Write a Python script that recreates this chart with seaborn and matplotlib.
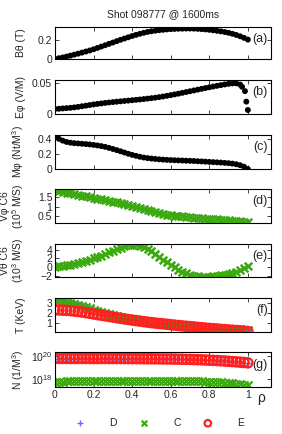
import numpy as np
import matplotlib
matplotlib.use("Agg")
import matplotlib.pyplot as plt
import seaborn as sns

# radial grid (normalised minor radius)
rho = np.linspace(0, 1, 51)

b_theta = [0.000, 0.008, 0.016, 0.025, 0.035, 0.045, 0.055, 0.066, 0.077, 0.088,
           0.100, 0.114, 0.128, 0.142, 0.156, 0.170, 0.184, 0.198, 0.211, 0.224,
           0.237, 0.249, 0.260, 0.270, 0.279, 0.286, 0.292, 0.297, 0.301, 0.305,
           0.308, 0.310, 0.312, 0.313, 0.314, 0.314, 0.313, 0.311, 0.308, 0.305,
           0.301, 0.296, 0.291, 0.285, 0.278, 0.270, 0.260, 0.248, 0.234, 0.218,
           0.200]

rho_e = list(np.round(np.arange(0, 0.97, 0.02), 2)) + [0.97, 0.985, 0.992, 1.0]
e_phi = [0.0080, 0.0085, 0.0090, 0.0095, 0.0100, 0.0107, 0.0115, 0.0125, 0.0135, 0.0145,
         0.0155, 0.0163, 0.0171, 0.0179, 0.0186, 0.0193, 0.0199, 0.0205, 0.0211, 0.0217,
         0.0223, 0.0229, 0.0235, 0.0242, 0.0249, 0.0256, 0.0264, 0.0273, 0.0283, 0.0294,
         0.0305, 0.0317, 0.0329, 0.0342, 0.0355, 0.0368, 0.0381, 0.0394, 0.0407, 0.0420,
         0.0432, 0.0444, 0.0456, 0.0467, 0.0478, 0.0488, 0.0495, 0.0496, 0.0475,
         0.0440, 0.0370, 0.0200, 0.0065]

m_phi = [0.425, 0.400, 0.375, 0.358, 0.348, 0.342, 0.338, 0.334, 0.330, 0.325,
         0.319, 0.312, 0.303, 0.293, 0.280, 0.265, 0.250, 0.234, 0.218, 0.202,
         0.187, 0.174, 0.162, 0.152, 0.144, 0.138, 0.133, 0.128, 0.124, 0.121,
         0.118, 0.116, 0.114, 0.112, 0.110, 0.108, 0.106, 0.103, 0.100, 0.097,
         0.094, 0.091, 0.088, 0.085, 0.081, 0.077, 0.071, 0.063, 0.050, 0.030,
         0.000]

v_phi = [1.88, 1.84, 1.80, 1.76, 1.72, 1.68, 1.64, 1.60, 1.56, 1.52,
         1.48, 1.44, 1.40, 1.36, 1.32, 1.28, 1.24, 1.20, 1.15, 1.10,
         1.05, 1.00, 0.94, 0.88, 0.82, 0.76, 0.71, 0.66, 0.62, 0.58,
         0.55, 0.52, 0.50, 0.48, 0.46, 0.44, 0.42, 0.41, 0.39, 0.37,
         0.36, 0.34, 0.33, 0.31, 0.30, 0.28, 0.26, 0.24, 0.22, 0.19,
         0.16]

v_theta = [0.00, 0.12, 0.25, 0.40, 0.56, 0.75, 0.95, 1.17, 1.42, 1.70,
           2.00, 2.32, 2.65, 3.00, 3.35, 3.70, 4.05, 4.40, 4.75, 5.00,
           5.15, 5.15, 4.95, 4.60, 4.15, 3.60, 3.00, 2.35, 1.70, 1.05,
           0.45, -0.10, -0.60, -1.05, -1.45, -1.75, -2.00, -2.15, -2.25, -2.28,
           -2.25, -2.18, -2.07, -1.93, -1.77, -1.58, -1.35, -1.10, -0.60, -0.25,
           0.15]

t_D = [3.40, 3.30, 3.20, 3.09, 2.98, 2.87, 2.76, 2.65, 2.54, 2.43,
       2.32, 2.21, 2.10, 2.00, 1.90, 1.80, 1.71, 1.62, 1.54, 1.46,
       1.39, 1.32, 1.26, 1.20, 1.14, 1.09, 1.04, 0.99, 0.95, 0.91,
       0.87, 0.83, 0.79, 0.76, 0.73, 0.70, 0.67, 0.64, 0.61, 0.59,
       0.56, 0.54, 0.52, 0.50, 0.48, 0.46, 0.44, 0.42, 0.40, 0.38,
       0.36]
t_C = [3.30, 3.22, 3.14, 3.05, 2.96, 2.86, 2.76, 2.66, 2.55, 2.44,
       2.33, 2.22, 2.11, 2.00, 1.90, 1.80, 1.71, 1.62, 1.54, 1.46,
       1.39, 1.32, 1.26, 1.20, 1.14, 1.09, 1.04, 0.99, 0.95, 0.91,
       0.87, 0.83, 0.79, 0.76, 0.73, 0.70, 0.67, 0.64, 0.61, 0.59,
       0.56, 0.54, 0.52, 0.50, 0.48, 0.46, 0.44, 0.42, 0.40, 0.38,
       0.36]
t_E = [2.30, 2.29, 2.27, 2.25, 2.22, 2.18, 2.14, 2.09, 2.03, 1.97,
       1.90, 1.84, 1.78, 1.72, 1.66, 1.60, 1.54, 1.48, 1.42, 1.36,
       1.31, 1.26, 1.21, 1.16, 1.11, 1.06, 1.02, 0.98, 0.94, 0.90,
       0.86, 0.82, 0.78, 0.74, 0.71, 0.67, 0.64, 0.60, 0.57, 0.53,
       0.50, 0.47, 0.44, 0.41, 0.38, 0.35, 0.32, 0.29, 0.26, 0.23,
       0.20]

# densities, units of 1e19 (D, E) and 1e17 (C)
n_E19 = [6.60, 6.60, 6.59, 6.59, 6.58, 6.58, 6.57, 6.56, 6.55, 6.54,
         6.53, 6.52, 6.51, 6.50, 6.48, 6.46, 6.44, 6.42, 6.40, 6.37,
         6.34, 6.31, 6.28, 6.24, 6.20, 6.16, 6.11, 6.06, 6.00, 5.94,
         5.87, 5.79, 5.70, 5.60, 5.49, 5.37, 5.24, 5.10, 4.95, 4.79,
         4.62, 4.44, 4.25, 4.06, 3.86, 3.66, 3.46, 3.26, 3.06, 2.86,
         2.65]
n_D19 = [6.50, 6.50, 6.49, 6.49, 6.48, 6.48, 6.47, 6.46, 6.45, 6.44,
         6.43, 6.42, 6.41, 6.40, 6.38, 6.36, 6.34, 6.32, 6.30, 6.27,
         6.24, 6.21, 6.18, 6.14, 6.10, 6.06, 6.01, 5.96, 5.90, 5.84,
         5.77, 5.69, 5.60, 5.50, 5.39, 5.27, 5.14, 5.00, 4.85, 4.69,
         4.52, 4.34, 4.15, 3.96, 3.76, 3.56, 3.36, 3.16, 2.96, 2.76,
         2.55]
n_C17 = [5.60, 5.60, 5.61, 5.62, 5.63, 5.64, 5.65, 5.66, 5.67, 5.68,
         5.70, 5.72, 5.74, 5.76, 5.78, 5.80, 5.82, 5.84, 5.86, 5.88,
         5.90, 5.92, 5.94, 5.96, 5.98, 6.00, 6.01, 6.02, 6.02, 6.02,
         6.02, 6.01, 6.00, 5.98, 5.95, 5.90, 5.83, 5.74, 5.63, 5.50,
         5.35, 5.18, 4.98, 4.75, 4.50, 4.22, 3.92, 3.60, 3.27, 2.93,
         2.60]

species = ["D", "C", "E"]
sp_colors = ["#6a6aff", "#3aaa10", "#ff2020"]

sns.set_style("ticks")
plt.rcParams["font.family"] = ["Liberation Sans", "DejaVu Sans"]
plt.rcParams["mathtext.default"] = "regular"

fig = plt.figure(figsize=(2.82, 4.34), dpi=100)
W, H = 282, 434
panels = [(27, 59), (80, 114), (135, 169), (189, 223), (244, 277), (298, 332), (352, 387)]
axes = []
for top, bot in panels:
    ax = fig.add_axes([55 / W, 1 - bot / H, 216 / W, (bot - top) / H])
    axes.append(ax)

black = dict(color="black", s=18, linewidth=0, edgecolor="none")
green = dict(color=sp_colors[1], marker="x", s=30, linewidth=1.8)

sns.scatterplot(x=rho, y=b_theta, ax=axes[0], **black)
sns.scatterplot(x=rho_e, y=e_phi, ax=axes[1], **black)
sns.scatterplot(x=rho, y=m_phi, ax=axes[2], **black)
sns.scatterplot(x=rho, y=v_phi, ax=axes[3], **green)
sns.scatterplot(x=rho, y=v_theta, ax=axes[4], **green)

t_vals = [t_D, t_C, np.array(t_E)]
n_vals = [np.array(n_D19) * 1e19, np.array(n_C17) * 1e17, np.array(n_E19) * 1e19]
for ax, vals in [(axes[5], t_vals), (axes[6], n_vals)]:
    sns.scatterplot(x=rho, y=vals[0], ax=ax, color=sp_colors[0], marker="+",
                    s=30, linewidth=1.0, label=species[0])
    sns.scatterplot(x=rho, y=vals[1], ax=ax, color=sp_colors[1], marker="x",
                    s=34, linewidth=1.6, label=species[1])
    sns.scatterplot(x=rho, y=vals[2], ax=ax, marker="o", s=45, linewidth=1.6,
                    facecolor="none", edgecolor=sp_colors[2], label=species[2])
axes[6].set_yscale("log")

ylims = [(0, 0.33), (0, 0.055), (0, 0.45), (0.13, 1.95), (-2.3, 5.3), (0.15, 3.45), (1.8e17, 2.5e20)]
yticks = [[0, 0.2], [0, 0.05], [0, 0.2, 0.4], [0.5, 1, 1.5], [-2, 0, 2, 4], [1, 2, 3], [1e18, 1e20]]
yticklabels = [["0", "0.2"], ["0", "0.05"], ["0", "0.2", "0.4"], ["0.5", "1", "1.5"],
               ["\u22122", "0", "2", "4"], ["1", "2", "3"],
               ["$10^{18}$", "$10^{20}$"]]
ylabels = ["B\u03b8 (T)", "E\u03c6 (V/M)", "M\u03c6 (Nt/M$^3$)",
           "V\u03c6 C6\n(10$^5$ M/S)", "V\u03b8 C6\n(10$^3$ M/S)",
           "T (KeV)", "N (1/M$^3$)"]
tags = ["(a)", "(b)", "(c)", "(d)", "(e)", "(f)", "(g)"]
xticks = [0, 0.2, 0.4, 0.6, 0.8, 1]

for i, ax in enumerate(axes):
    ax.set_xlim(0, 1.12)
    ax.set_ylim(*ylims[i])
    ax.set_xticks(xticks)
    ax.set_yticks(yticks[i])
    ax.set_yticklabels(yticklabels[i])
    ax.minorticks_off()
    ax.tick_params(direction="in", top=True, right=True, length=3, width=0.6,
                   labelsize=7.5, pad=2)
    if i < 6:
        ax.tick_params(labelbottom=False)
    else:
        ax.set_xticklabels(["0", "0.2", "0.4", "0.6", "0.8", "1"])
    for sp in ax.spines.values():
        sp.set_linewidth(0.8)
        sp.set_color("black")
    ax.set_xlabel("")
    ax.set_ylabel(ylabels[i], fontsize=7.5, linespacing=1.0)
    ax.yaxis.set_label_coords(-0.135, 0.5)
    ax.text(0.985, 0.64, tags[i], transform=ax.transAxes, ha="right", va="center",
            fontsize=9)
    leg = ax.get_legend()
    if leg is not None:
        leg.remove()

axes[6].text(0.955, -0.32, "\u03c1", transform=axes[6].transAxes, ha="center",
             va="center", fontsize=10)

fig.text(163 / W, 1 - 14 / H, "Shot 098777 @ 1600ms", ha="center", va="center",
         fontsize=7.5)

handles, labels = axes[6].get_legend_handles_labels()
fig.legend(handles, labels, loc="center", bbox_to_anchor=(160 / W, 1 - 423 / H),
           ncol=3, frameon=False, fontsize=7.5, handlelength=0.8, markerscale=0.7,
           handletextpad=2.4, columnspacing=2.2, scatterpoints=1)

fig.savefig("out.png", dpi=100)
